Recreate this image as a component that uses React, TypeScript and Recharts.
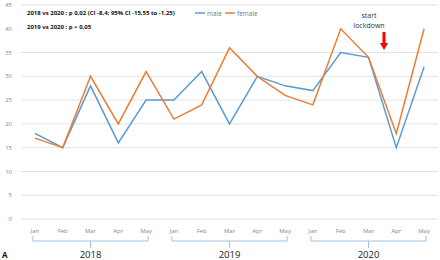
import React from "react";
import { LineChart, Line, XAxis, YAxis, CartesianGrid } from "recharts";

const months = ["Jan", "Feb", "Mar", "Apr", "May", "Jan", "Feb", "Mar", "Apr", "May", "Jan", "Feb", "Mar", "Apr", "May"];
const male = [18, 15, 28, 16, 25, 25, 31, 20, 30, 28, 27, 35, 34, 15, 32];
const female = [17, 15, 30, 20, 31, 21, 24, 36, 30, 26, 24, 40, 34, 18, 40];
const yTicks = [0, 5, 10, 15, 20, 25, 30, 35, 40, 45];
const years = ["2018", "2019", "2020"];

const data = months.map((m, i) => ({ key: i, month: m, male: male[i], female: female[i] }));

const FONT = "'Open Sans', 'DejaVu Sans', sans-serif";

const Brace = ({ x1, x2, label }: { x1: number; x2: number; label: string }) => {
  const mid = (x1 + x2) / 2;
  return (
    <g>
      <path
        d={`M${x1},236 L${x1},241 L${x2},241 L${x2},236 M${mid},241 L${mid},248`}
        stroke="#9DC3E6"
        strokeWidth={1}
        fill="none"
      />
      <text x={mid} y={258} textAnchor="middle" fontSize={9.5} fill="#222" fontFamily={FONT}>{label}</text>
    </g>
  );
};

export default function App() {
  const step = 27.8;
  const x0 = 21 + step / 2;
  return (
    <div style={{ position: "absolute", left: 0, top: 0, width: 440, height: 260, background: "#fff" }}>
      <LineChart width={440} height={260} data={data} margin={{ top: 5, right: 2, left: 0, bottom: 11 }}>
        <CartesianGrid horizontal vertical={false} stroke="#E3E3E3" />
        <XAxis
          dataKey="key"
          scale="band"
          height={30}
          tickFormatter={(v: number) => months[v]}
          axisLine={false}
          tickLine={false}
          interval={0}
          tick={{ fontSize: 6, fill: "#888", fontFamily: FONT }}
          tickMargin={4}
        />
        <YAxis
          width={21}
          domain={[0, 45]}
          ticks={yTicks}
          axisLine={false}
          tickLine={false}
          tick={{ fontSize: 6, fill: "#888", fontFamily: FONT }}
          tickMargin={3}
        />
        <Line type="linear" dataKey="male" stroke="#5B9BD5" strokeWidth={1.5} dot={false} isAnimationActive={false} />
        <Line type="linear" dataKey="female" stroke="#ED7D31" strokeWidth={1.5} dot={false} isAnimationActive={false} />
      </LineChart>
      <svg width={440} height={260} style={{ position: "absolute", left: 0, top: 0, pointerEvents: "none" }}>
        <text x={27} y={15} fontSize={6} fontWeight="bold" fill="#111" fontFamily={FONT}>
          2018 vs 2020 : p 0,02 (CI -8,4; 95% CI -15,55 to -1,25)
        </text>
        <text x={27} y={29} fontSize={6} fontWeight="bold" fill="#111" fontFamily={FONT}>
          2019 vs 2020 : p &gt; 0,05
        </text>
        <line x1={195} y1={13} x2={205} y2={13} stroke="#5B9BD5" strokeWidth={1.5} />
        <text x={207} y={15.5} fontSize={6.5} fill="#777" fontFamily={FONT}>male</text>
        <line x1={225} y1={13} x2={235} y2={13} stroke="#ED7D31" strokeWidth={1.5} />
        <text x={237} y={15.5} fontSize={6.5} fill="#777" fontFamily={FONT}>female</text>
        <text x={369} y={18} textAnchor="middle" fontSize={7} fill="#333" fontFamily={FONT}>start</text>
        <text x={369} y={28} textAnchor="middle" fontSize={7} fill="#333" fontFamily={FONT}>lockdown</text>
        <rect x={382.5} y={32} width={3} height={11} fill="#FF0000" />
        <polygon points="380,43 388,43 384,50" fill="#FF0000" />
        {years.map((y, i) => (
          <Brace key={y} x1={x0 + i * 5 * step - 2} x2={x0 + (i * 5 + 4) * step + 2} label={y} />
        ))}
        <text x={2} y={258} fontSize={8} fontWeight="bold" fill="#111" fontFamily={FONT}>A</text>
      </svg>
    </div>
  );
}
